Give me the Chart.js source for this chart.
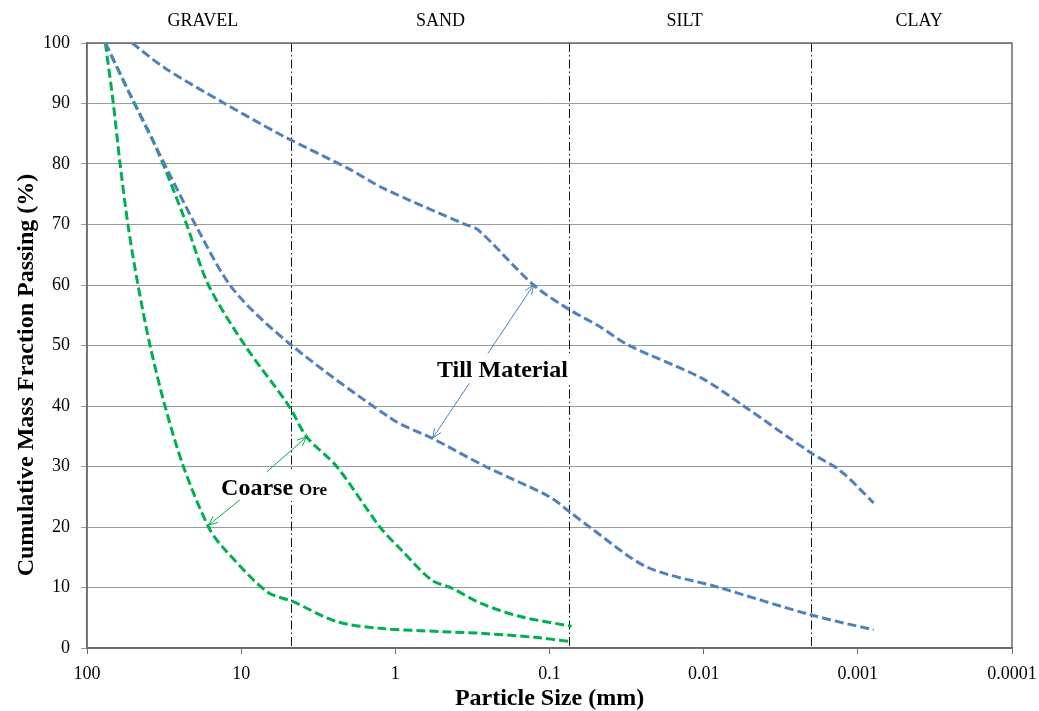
<!DOCTYPE html>
<html>
<head>
<meta charset="utf-8">
<script src="https://cdn.jsdelivr.net/npm/chart.js@4.4.1/dist/chart.umd.min.js"></script>
<style>
  body { margin: 0; background: #fff; }
  #wrap { width: 1039px; height: 711px; }
</style>
</head>
<body>
<div id="wrap"><canvas id="grafica"></canvas></div>
<script>
// Particle size (mm) / cumulative % passing
const tillUpperSize = [51, 31, 13.4, 5.5, 2, 1.2, 0.36, 0.29, 0.127, 0.074, 0.047, 0.031, 0.0103, 0.0055, 0.002, 0.0013, 0.00079];
const tillUpperPass = [100, 95.8, 90.3, 84.8, 79.2, 76, 70.1, 69.1, 60, 55.9, 53.1, 50.1, 44.6, 40, 32.2, 29.3, 24];

const tillLowerSize = [76, 52.6, 36, 19, 11.2, 4.75, 1.03, 0.58, 0.26, 0.1, 0.074, 0.055, 0.0234, 0.0082, 0.002, 0.00079];
const tillLowerPass = [100, 91.5, 83, 69.1, 59.2, 50.1, 37.7, 34.7, 30, 25, 22.5, 20, 13.4, 10.1, 5.45, 3];

const oreFineSize = [76, 52.6, 36, 23.1, 16.3, 9.44, 4.9, 3.76, 2.4, 1.26, 0.93, 0.58, 0.43, 0.28, 0.155, 0.072];
const oreFinePass = [100, 91.5, 83, 70.7, 60, 50, 40, 34.9, 30, 20, 16.4, 11.2, 9.9, 7.4, 5.2, 3.6];

const oreCoarseSize = [76, 67.5, 61, 54, 46.7, 39, 31.2, 23.7, 16.3, 13, 6.8, 4.6, 2.4, 1.26, 0.49, 0.28, 0.126, 0.072];
const oreCoarsePass = [100, 90, 80, 69.6, 60, 50, 40, 30, 20, 16.5, 9.3, 7.65, 4.35, 3.25, 2.7, 2.43, 1.77, 1.05];

const xTicks = [100, 10, 1, 0.1, 0.01, 0.001, 0.0001];
const xTickLabels = ['100', '10', '1', '0.1', '0.01', '0.001', '0.0001'];

// soil class limits (mm) and names
const zoneLimits = [4.75, 0.075, 0.002];
const zoneNames = ['GRAVEL', 'SAND', 'SILT', 'CLAY'];
const zoneNameAt = [17.7, 0.51, 0.0133, 0.0004];

// callouts: [size, %] of text and arrows
const tillLabelAt = [0.537, 44.8];
const tillArrows = [[0.251, 48.7, 0.127, 60], [0.331, 43.75, 0.573, 34.7]];
const oreLabelAt = [13.5, 25.3];
const oreArrows = [[6.83, 29.1, 3.76, 34.9], [10.18, 24.5, 16.3, 20.3]];

const blue = '#4f81bd';
const green = '#00b050';
const serif = "'Liberation Serif', 'Times New Roman', serif";

function puntos(xs, ys) {
    return xs.map((v, i) => ({ x: v, y: ys[i] }));
}

function serie(xs, ys, color) {
    return {
        data: puntos(xs, ys),
        borderColor: color,
        borderWidth: 3,
        borderDash: [9, 4],
        pointRadius: 0,
        showLine: true,
        fill: false,
        tension: 0.3
    };
}

function flecha(ctx, x1, y1, x2, y2, color) {
    const ang = Math.atan2(y2 - y1, x2 - x1);
    const len = 10;
    ctx.strokeStyle = color;
    ctx.lineWidth = 1;
    ctx.beginPath();
    ctx.moveTo(x1, y1);
    ctx.lineTo(x2, y2);
    ctx.moveTo(x2 - len * Math.cos(ang - 0.4), y2 - len * Math.sin(ang - 0.4));
    ctx.lineTo(x2, y2);
    ctx.lineTo(x2 - len * Math.cos(ang + 0.4), y2 - len * Math.sin(ang + 0.4));
    ctx.stroke();
}

const extras = {
    id: 'extras',
    beforeDatasetsDraw(chart) {
        const { ctx, chartArea: a, scales: { x } } = chart;
        ctx.save();
        // dash-dot class limits
        ctx.strokeStyle = '#111';
        ctx.lineWidth = 1;
        ctx.setLineDash([9, 3, 1.5, 3]);
        zoneLimits.forEach(v => {
            const px = Math.round(x.getPixelForValue(v)) + 0.5;
            ctx.beginPath();
            ctx.moveTo(px, a.top);
            ctx.lineTo(px, a.bottom);
            ctx.stroke();
        });
        ctx.setLineDash([]);
        // plot border
        ctx.strokeStyle = '#6a6a6a';
        ctx.lineWidth = 1.5;
        ctx.strokeRect(a.left, a.top, a.right - a.left, a.bottom - a.top);
        // zone names
        ctx.fillStyle = '#000';
        ctx.font = '18px ' + serif;
        ctx.textAlign = 'center';
        ctx.textBaseline = 'alphabetic';
        zoneNames.forEach((n, i) => ctx.fillText(n, x.getPixelForValue(zoneNameAt[i]), a.top - 17));
        // y title
        ctx.save();
        ctx.translate(33, 375);
        ctx.rotate(-Math.PI / 2);
        ctx.font = 'bold 24px ' + serif;
        ctx.fillText('Cumulative Mass Fraction Passing (%)', 0, 0);
        ctx.restore();
        ctx.restore();
    },
    afterDatasetsDraw(chart) {
        const { ctx, scales: { x, y } } = chart;
        ctx.save();
        ctx.textAlign = 'left';
        ctx.textBaseline = 'alphabetic';

        // Till Material
        ctx.font = 'bold 24px ' + serif;
        let tx = x.getPixelForValue(tillLabelAt[0]);
        let ty = y.getPixelForValue(tillLabelAt[1]);
        let w = ctx.measureText('Till Material').width;
        ctx.fillStyle = '#fff';
        ctx.fillRect(tx - 6, ty - 24, w + 18, 30);
        ctx.fillStyle = '#000';
        ctx.fillText('Till Material', tx, ty);
        tillArrows.forEach(f => flecha(ctx, x.getPixelForValue(f[0]), y.getPixelForValue(f[1]),
            x.getPixelForValue(f[2]), y.getPixelForValue(f[3]), blue));

        // Coarse Ore
        tx = x.getPixelForValue(oreLabelAt[0]);
        ty = y.getPixelForValue(oreLabelAt[1]);
        ctx.font = 'bold 24px ' + serif;
        const w1 = ctx.measureText('Coarse ').width;
        ctx.font = 'bold 17px ' + serif;
        const w2 = ctx.measureText('Ore').width;
        ctx.fillStyle = '#fff';
        ctx.fillRect(tx - 6, ty - 24, w1 + w2 + 18, 30);
        ctx.fillStyle = '#000';
        ctx.font = 'bold 24px ' + serif;
        ctx.fillText('Coarse', tx, ty);
        ctx.font = 'bold 17px ' + serif;
        ctx.fillText('Ore', tx + w1, ty);
        oreArrows.forEach(f => flecha(ctx, x.getPixelForValue(f[0]), y.getPixelForValue(f[1]),
            x.getPixelForValue(f[2]), y.getPixelForValue(f[3]), green));
        ctx.restore();
    }
};

document.addEventListener('DOMContentLoaded', function() {
    const ctx = document.getElementById('grafica').getContext('2d');

    new Chart(ctx, {
        type: 'scatter',
        data: {
            datasets: [
                serie(tillUpperSize, tillUpperPass, blue),
                serie(tillLowerSize, tillLowerPass, blue),
                serie(oreFineSize, oreFinePass, green),
                serie(oreCoarseSize, oreCoarsePass, green)
            ]
        },
        options: {
            responsive: true,
            maintainAspectRatio: false,
            animation: false,
            layout: { padding: { top: 43, right: 27, left: 0, bottom: 0 } },
            plugins: {
                legend: { display: false },
                tooltip: { enabled: false }
            },
            scales: {
                x: {
                    type: 'logarithmic',
                    reverse: true,
                    min: 0.0001,
                    max: 100,
                    afterBuildTicks: s => { s.ticks = xTicks.map(v => ({ value: v })); },
                    afterFit: s => { s.height = 63; s.paddingLeft = 0; s.paddingRight = 0; },
                    border: { color: '#6a6a6a', width: 1.5 },
                    grid: { drawOnChartArea: false, drawTicks: true, tickLength: 6, color: '#6a6a6a' },
                    ticks: {
                        color: '#000',
                        padding: 9,
                        maxRotation: 0,
                        autoSkip: false,
                        font: { family: serif, size: 18 },
                        callback: function(value) {
                            const i = xTicks.indexOf(value);
                            return i >= 0 ? xTickLabels[i] : '';
                        }
                    },
                    title: {
                        display: true,
                        text: 'Particle Size (mm)',
                        color: '#000',
                        padding: 0,
                        font: { family: serif, size: 24, weight: 'bold', lineHeight: 1 }
                    }
                },
                y: {
                    min: 0,
                    max: 100,
                    afterFit: s => { s.width = 87; },
                    border: { color: '#6a6a6a', width: 1.5 },
                    grid: { color: '#9a9a9a', tickLength: 6 },
                    ticks: {
                        stepSize: 10,
                        color: '#000',
                        padding: 11,
                        font: { family: serif, size: 18 }
                    }
                }
            }
        },
        plugins: [extras]
    });
});
</script>
</body>
</html>
